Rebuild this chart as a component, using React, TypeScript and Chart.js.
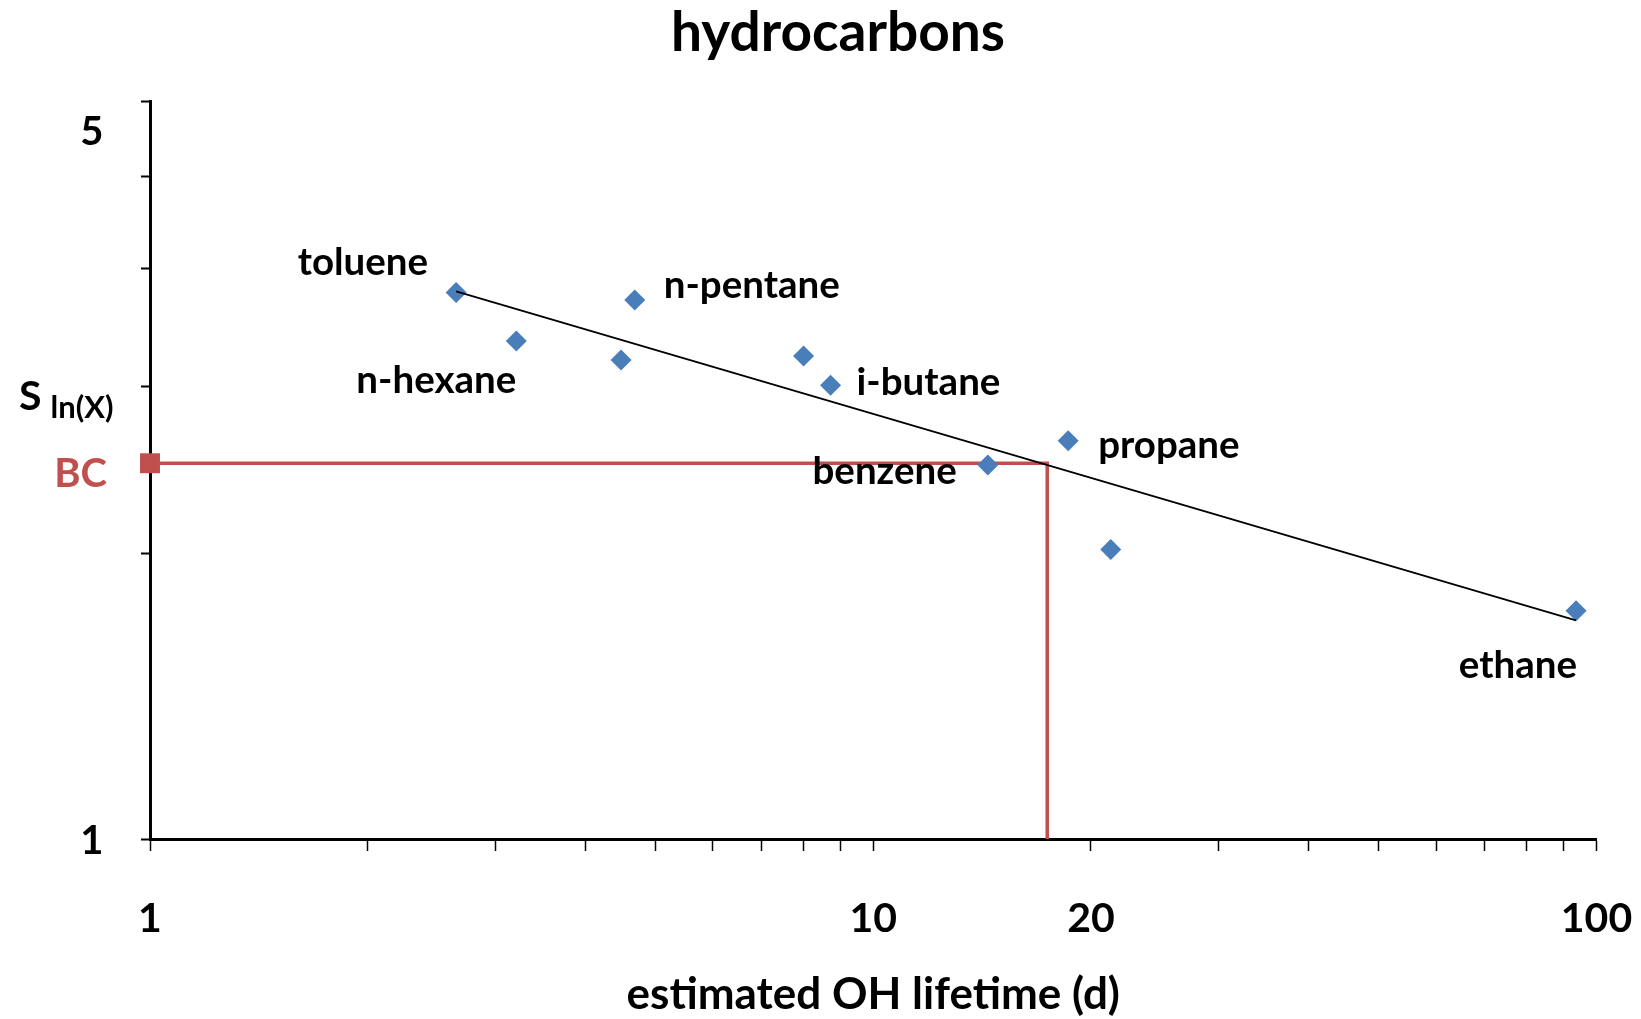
import React, { useEffect, useRef } from 'react';
import { Chart, registerables } from 'chart.js';

Chart.register(...registerables);

// ---- data ----
const compoundNames = ['toluene', 'n-hexane', '', 'n-pentane', '', 'i-butane', 'benzene', 'propane', '', 'ethane'];
const lifetimeDays = [2.65, 3.21, 4.48, 4.68, 8.01, 8.73, 14.4, 18.6, 21.3, 93.7];
const sValues = [3.77, 3.35, 3.2, 3.7, 3.23, 3.01, 2.48, 2.63, 2.02, 1.74];
const trendX = [2.65, 93.7];
const trendY = [3.78, 1.7];
const bcLevel = 2.49;
const bcLifetime = 17.4;
const xTickValues = [1, 2, 3, 4, 5, 6, 7, 8, 9, 10, 20, 30, 40, 50, 60, 70, 80, 90, 100];
const xLabelValues = [1, 10, 20, 100];
const yTickValues = [1, 2, 3, 4, 5, 6];
const yLabelTexts = ['1', '5'];
const yLabelValues = [1, 5.59];

// ---- styles ----
const FONT = 'Lato';
const BLUE = '#4A7EBB';
const RED = '#C0504D';
const labelPlacement: Record<string, { align: CanvasTextAlign; dx: number; dy: number }> = {
  'toluene': { align: 'right', dx: -28, dy: -17 },
  'n-hexane': { align: 'right', dx: 0, dy: 52 },
  'n-pentane': { align: 'left', dx: 29, dy: -2 },
  'i-butane': { align: 'left', dx: 26, dy: 10 },
  'benzene': { align: 'right', dx: -31, dy: 19 },
  'propane': { align: 'left', dx: 30, dy: 17 },
  'ethane': { align: 'right', dx: 1, dy: 67 },
};

const pointLabelPlugin = {
  id: 'pointLabels',
  afterDatasetsDraw(chart: any) {
    const meta = chart.getDatasetMeta(1);
    const ctx = chart.ctx;
    ctx.save();
    ctx.font = `bold 38.5px ${FONT}`;
    ctx.fillStyle = '#000';
    ctx.textBaseline = 'alphabetic';
    meta.data.forEach((el: any, i: number) => {
      const name = compoundNames[i];
      if (!name) return;
      const st = labelPlacement[name];
      if (!st) return;
      ctx.textAlign = st.align;
      ctx.fillText(name, el.x + st.dx, el.y + st.dy);
    });
    ctx.restore();
  },
};

const axisTextPlugin = {
  id: 'axisText',
  afterDraw(chart: any) {
    const ctx = chart.ctx;
    const ys = chart.scales.y;
    const area = chart.chartArea;
    ctx.save();
    ctx.fillStyle = '#000';
    ctx.textBaseline = 'alphabetic';
    // y tick labels
    ctx.font = `bold 40px ${FONT}`;
    ctx.textAlign = 'right';
    yLabelTexts.forEach((t, i) => {
      const py = ys.getPixelForValue(yLabelValues[i]);
      ctx.fillText(t, area.left - 46.5, py + 15);
    });
    // y axis title S ln(X)
    ctx.textAlign = 'left';
    ctx.font = `bold 41px ${FONT}`;
    ctx.fillText('S', 19, 410);
    ctx.font = `bold 31px ${FONT}`;
    ctx.fillText('ln(X)', 50.5, 418);
    // BC label
    ctx.fillStyle = RED;
    ctx.textAlign = 'right';
    ctx.font = `bold 40px ${FONT}`;
    ctx.fillText('BC', area.left - 43, ys.getPixelForValue(bcLevel) + 24);
    ctx.restore();
  },
};

export default function App() {
  const canvasRef = useRef<HTMLCanvasElement | null>(null);

  useEffect(() => {
    document.body.style.margin = '0';
    const canvas = canvasRef.current;
    if (!canvas) return;
    const chart = new Chart(canvas, {
      type: 'scatter',
      data: {
        datasets: [
          {
            type: 'line',
            label: 'trend',
            data: trendX.map((x, i) => ({ x, y: trendY[i] })),
            borderColor: '#000',
            borderWidth: 1.8,
            pointRadius: 0,
            fill: false,
          } as any,
          {
            type: 'scatter',
            label: 'hydrocarbons',
            data: lifetimeDays.map((x, i) => ({ x, y: sValues[i] })),
            pointStyle: 'rectRot',
            pointRadius: 10.5,
            backgroundColor: BLUE,
            borderColor: BLUE,
            pointBorderWidth: 0,
            borderWidth: 0,
          },
          {
            type: 'line',
            label: 'BC',
            data: [
              { x: 1, y: bcLevel },
              { x: bcLifetime, y: bcLevel },
              { x: bcLifetime, y: 1 },
            ],
            borderColor: RED,
            borderWidth: 3.5,
            pointStyle: 'rect',
            pointRadius: [14.1, 0, 0],
            backgroundColor: RED,
            pointBorderWidth: 0,
            fill: false,
            clip: false,
          } as any,
        ],
      },
      options: {
        responsive: false,
        maintainAspectRatio: false,
        animation: false,
        events: [],
        layout: { padding: { left: 79.5, right: 44.5, top: 0, bottom: 0 } },
        plugins: {
          legend: { display: false },
          tooltip: { enabled: false },
          title: {
            display: true,
            text: 'hydrocarbons',
            color: '#000',
            font: { family: FONT, weight: 'bold', size: 55, lineHeight: 1.2 },
            padding: { top: 0, bottom: 35 },
          },
        },
        scales: {
          x: {
            type: 'logarithmic',
            min: 1,
            max: 100,
            afterBuildTicks: (scale: any) => {
              scale.ticks = xTickValues.map((v) => ({ value: v }));
            },
            afterFit: (scale: any) => {
              scale.height = 180;
              scale.paddingLeft = 0;
              scale.paddingRight = 0;
            },
            grid: {
              display: true,
              drawOnChartArea: false,
              drawTicks: true,
              tickLength: 12,
              tickWidth: 1.5,
              tickColor: '#000',
            },
            border: { display: true, color: '#000', width: 3 },
            ticks: {
              autoSkip: false,
              maxRotation: 0,
              color: '#000',
              padding: 43,
              font: { family: FONT, weight: 'bold', size: 41 },
              callback: (v: any) => (xLabelValues.includes(Number(v)) ? String(v) : ''),
            },
            title: {
              display: true,
              text: 'estimated OH lifetime (d)',
              color: '#000',
              font: { family: FONT, weight: 'bold', size: 44, lineHeight: 1.1 },
              padding: { top: 0, bottom: 0 },
            },
          },
          y: {
            type: 'logarithmic',
            min: 1,
            max: 6,
            afterBuildTicks: (scale: any) => {
              scale.ticks = yTickValues.map((v) => ({ value: v }));
            },
            afterFit: (scale: any) => {
              scale.width = 70.5;
              scale.paddingTop = 0;
              scale.paddingBottom = 0;
            },
            grid: {
              display: true,
              drawOnChartArea: false,
              drawTicks: true,
              tickLength: 9,
              tickWidth: 2,
              tickColor: '#000',
            },
            border: { display: true, color: '#000', width: 3 },
            ticks: { display: false },
          },
        },
      },
      plugins: [pointLabelPlugin, axisTextPlugin],
    });
    return () => chart.destroy();
  }, []);

  return (
    <div style={{ width: 1641, height: 1019, background: '#fff' }}>
      <canvas ref={canvasRef} width={1641} height={1019} style={{ display: 'block' }} />
    </div>
  );
}
